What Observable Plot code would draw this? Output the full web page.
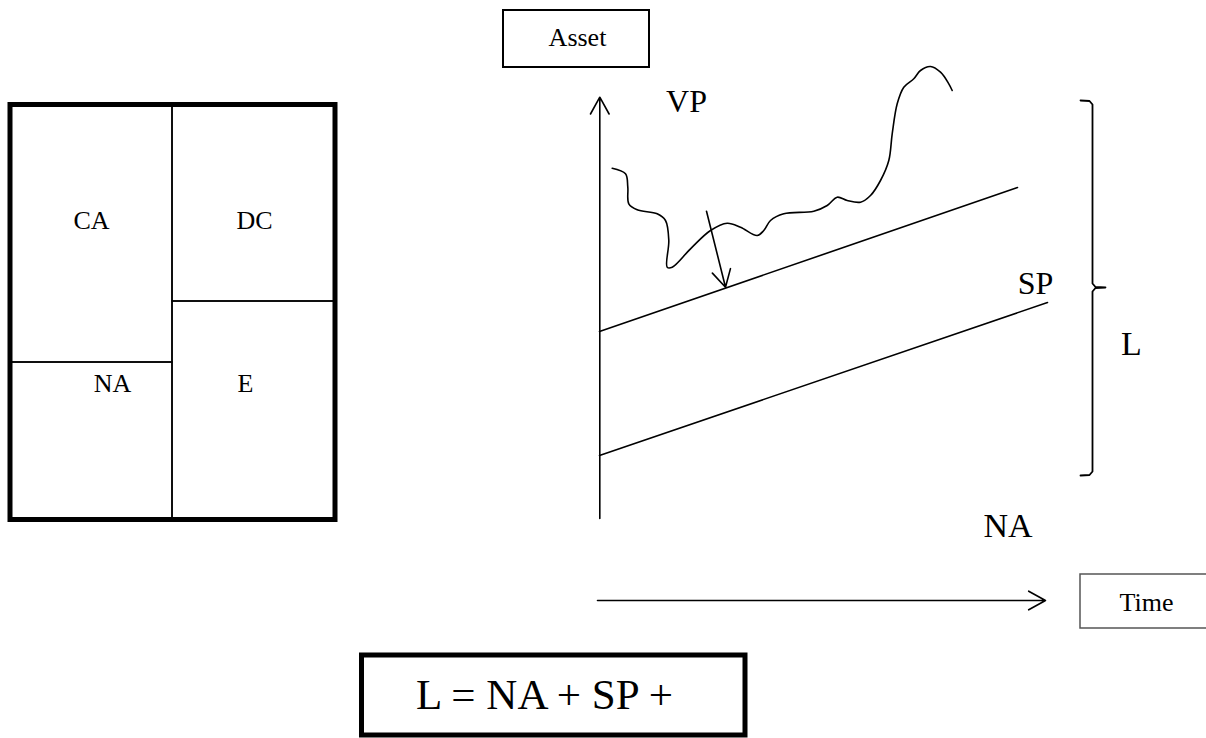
<!DOCTYPE html>
<html>
<head>
<meta charset="utf-8">
<script src="https://cdn.jsdelivr.net/npm/d3@7"></script>
<script src="https://cdn.jsdelivr.net/npm/@observablehq/plot@0.6"></script>
<style>
  html, body { margin: 0; padding: 0; background: #fff; }
  svg { display: block; }
</style>
</head>
<body>
<div id="chart"></div>
<script>
// ---- Balance sheet (left) ----
const sheetCells = ["CA", "NA", "DC", "E"];
const sheetX1 = [10, 10, 172, 172];
const sheetX2 = [172, 172, 335, 335];
const sheetY1 = [104.5, 362, 104.5, 301];
const sheetY2 = [362, 519.5, 301, 519.5];
const sheetLabelX = [91, 112, 254, 245];
const sheetLabelY = [228, 391.5, 228, 391.5];

// ---- Asset value path (VP), hand-drawn curve: time, value ----
const vpTime = [611.7, 625, 627.3, 628.3, 636.7, 656.7, 665, 668.3, 666.7, 671.7, 690, 710, 726.7, 740, 756.7, 763.3, 770, 783.3, 813.3, 826.7, 836.7, 846.7, 860, 870, 880, 888.3, 891.7, 896.7, 903.3, 913.3, 920, 930, 940, 948.3, 951.7];
const vpValue = [167.7, 173.3, 186.7, 203.3, 209.3, 213.3, 220, 240, 266.7, 266.7, 248.3, 230, 222.7, 226.7, 235, 230, 220, 213.3, 210.7, 205, 196.7, 200, 201.7, 195, 180, 160, 133.3, 103.3, 86.7, 78.3, 70, 66, 71.7, 83.3, 90];

// ---- Straight lines: SP (upper) and NA (lower) ----
const trendNames = ["SP", "NA"];
const trendTime = [[599, 1017], [599, 1047]];
const trendValue = [[331, 187], [455, 302]];

// ---- Arrows: asset axis, time axis, drop to SP ----
const arrowNames = ["Asset axis", "Time axis", "VP to SP"];
const arrowX1 = [599.3, 597, 706];
const arrowY1 = [518, 600, 210.7];
const arrowX2 = [599.3, 1045, 725];
const arrowY2 = [96.7, 600, 286.7];

// ---- Brace for L ----
const braceX = [1080, 1089, 1092, 1092, 1095, 1105, 1095, 1092, 1092, 1089, 1080];
const braceY = [100, 100.5, 104, 283, 286.5, 287, 287.5, 291, 471, 474.5, 475];

// ---- Label boxes ----
const boxNames = ["Asset", "Time", "Formula"];
const boxX1 = [503, 1080, 361.5];
const boxX2 = [649, 1210, 745];
const boxY1 = [10, 574, 655];
const boxY2 = [67, 628, 735];

// ---- Text labels (right side) ----
const labelText = ["Asset", "Time", "VP", "SP", "L", "NA", "L = NA + SP +"];
const labelX = [577, 1146, 686, 1035, 1131, 1007.5, 544];
const labelY = [45, 610, 111, 293, 354.5, 536, 708];
const labelSize = [26, 26, 32, 32, 34, 34, 43];

const cells = sheetCells.map((c, i) => ({c, x1: sheetX1[i], x2: sheetX2[i], y1: sheetY1[i], y2: sheetY2[i], lx: sheetLabelX[i], ly: sheetLabelY[i]}));
const vp = vpTime.map((t, i) => ({t, v: vpValue[i]}));
const trends = trendNames.flatMap((n, i) => trendTime[i].map((t, j) => ({n, t, v: trendValue[i][j]})));
const arrows = arrowNames.map((n, i) => ({n, x1: arrowX1[i], y1: arrowY1[i], x2: arrowX2[i], y2: arrowY2[i]}));
const brace = braceX.map((x, i) => ({x, y: braceY[i]}));
const boxes = boxNames.map((n, i) => ({n, x1: boxX1[i], x2: boxX2[i], y1: boxY1[i], y2: boxY2[i]}));
const labels = labelText.map((s, i) => ({s, x: labelX[i], y: labelY[i], size: labelSize[i]}));

const font = "'Liberation Serif', 'Times New Roman', serif";

const textMarks = labels.map(d => Plot.text([d], {
  x: "x", y: "y", text: "s", fontSize: d.size, fontFamily: font,
  lineAnchor: "bottom", textAnchor: "middle", fill: "#000"
}));

const chart = Plot.plot({
  width: 1206,
  height: 738,
  margin: 0,
  style: {background: "#fff", overflow: "visible"},
  x: {domain: [0, 1206], range: [0, 1206], axis: null},
  y: {domain: [0, 738], range: [0, 738], axis: null},
  marks: [
    // balance sheet cells
    Plot.rect(cells, {x1: "x1", x2: "x2", y1: "y1", y2: "y2", fill: "none", stroke: "#000", strokeWidth: 1.5}),
    Plot.rect([{x1: sheetX1[0], x2: sheetX2[2], y1: sheetY1[0], y2: sheetY2[1]}], {x1: "x1", x2: "x2", y1: "y1", y2: "y2", fill: "none", stroke: "#000", strokeWidth: 5}),
    Plot.text(cells, {x: "lx", y: "ly", text: "c", fontSize: 26, fontFamily: font, lineAnchor: "bottom", fill: "#000"}),
    // label boxes
    Plot.rect([boxes[0]], {x1: "x1", x2: "x2", y1: "y1", y2: "y2", fill: "none", stroke: "#000", strokeWidth: 2}),
    Plot.rect([boxes[1]], {x1: "x1", x2: "x2", y1: "y1", y2: "y2", fill: "none", stroke: "#555", strokeWidth: 1.5}),
    Plot.rect([boxes[2]], {x1: "x1", x2: "x2", y1: "y1", y2: "y2", fill: "none", stroke: "#000", strokeWidth: 5}),
    // trend lines
    Plot.line(trends, {x: "t", y: "v", z: "n", stroke: "#000", strokeWidth: 1.6}),
    // VP curve
    Plot.line(vp, {x: "t", y: "v", curve: "catmull-rom", stroke: "#000", strokeWidth: 1.6}),
    // arrows
    Plot.arrow(arrows, {x1: "x1", y1: "y1", x2: "x2", y2: "y2", stroke: "#000", strokeWidth: 1.6, headLength: 18, headAngle: 58}),
    // brace
    Plot.line(brace, {x: "x", y: "y", stroke: "#000", strokeWidth: 1.8}),
    ...textMarks
  ]
});

document.getElementById("chart").appendChild(chart);
</script>
</body>
</html>
